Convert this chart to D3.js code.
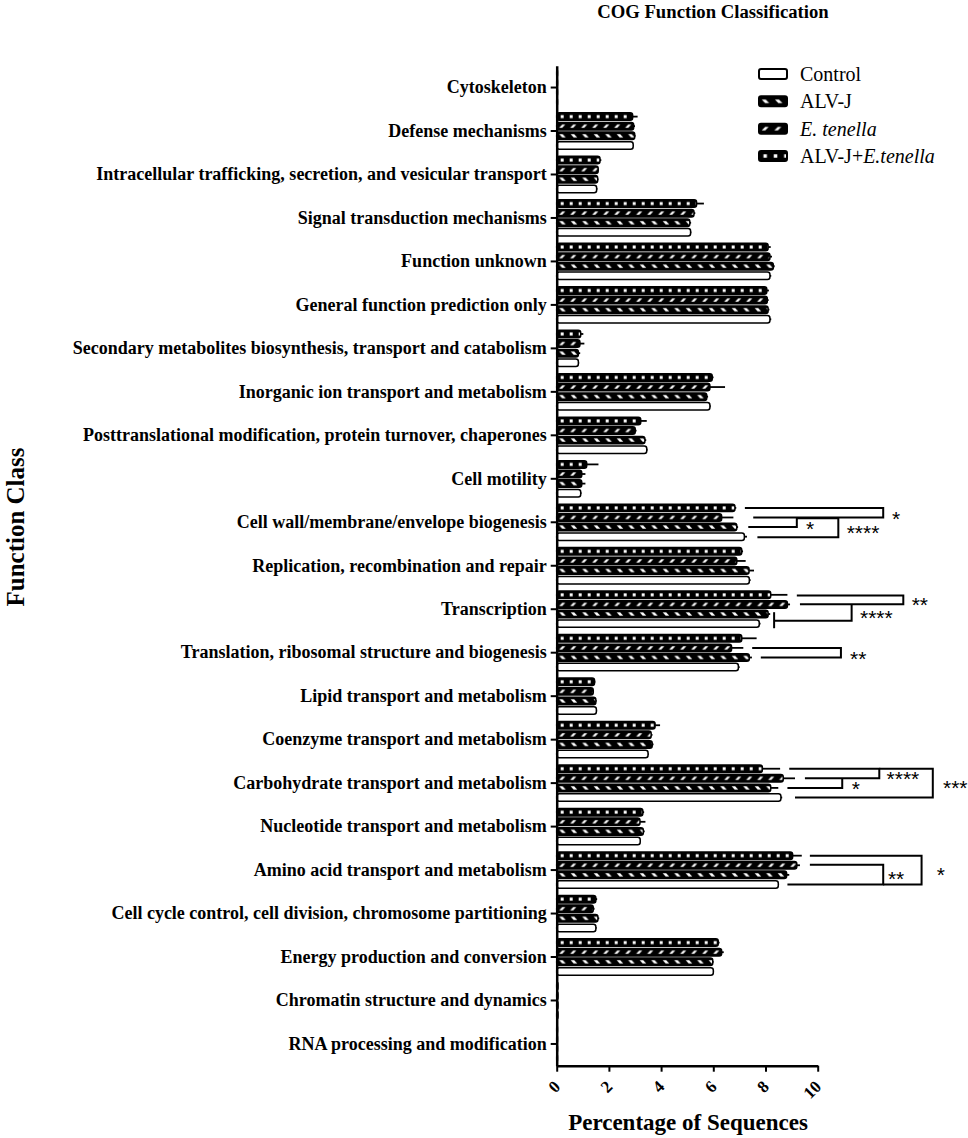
<!DOCTYPE html>
<html>
<head>
<meta charset="utf-8">
<script src="https://cdn.jsdelivr.net/npm/d3@7"></script>
<style>
  html, body { margin: 0; padding: 0; background: #fff; }
  svg { display: block; }
</style>
</head>
<body>
<svg id="chart" width="968" height="1138"></svg>
<script>
// ---------------- DATA ----------------
const categories = [
  "Cytoskeleton",
  "Defense mechanisms",
  "Intracellular trafficking, secretion, and vesicular transport",
  "Signal transduction mechanisms",
  "Function unknown",
  "General function prediction only",
  "Secondary metabolites biosynthesis, transport and catabolism",
  "Inorganic ion transport and metabolism",
  "Posttranslational modification, protein turnover, chaperones",
  "Cell motility",
  "Cell wall/membrane/envelope biogenesis",
  "Replication, recombination and repair",
  "Transcription",
  "Translation, ribosomal structure and biogenesis",
  "Lipid transport and metabolism",
  "Coenzyme transport and metabolism",
  "Carbohydrate transport and metabolism",
  "Nucleotide transport and metabolism",
  "Amino acid transport and metabolism",
  "Cell cycle control, cell division, chromosome partitioning",
  "Energy production and conversion",
  "Chromatin structure and dynamics",
  "RNA processing and modification"
];

// series, drawn top to bottom within each group
const seriesKeys = ["combo", "tenella", "alvj", "control"];

const comboValues   = [0.03, 2.91, 1.66, 5.36, 8.10, 8.05, 0.92, 5.96, 3.22, 1.15, 6.83, 7.09, 8.20, 7.09, 1.45, 3.77, 7.88, 3.30, 9.04, 1.50, 6.19, 0.05, 0.03];
const comboErrors   = [0, 0.19, 0.05, 0.28, 0.10, 0.08, 0.10, 0.05, 0.23, 0.45, 0.05, 0.05, 0.64, 0.57, 0.03, 0.19, 0.68, 0.05, 0.35, 0.05, 0.05, 0, 0];
const tenellaValues = [0.03, 2.95, 1.59, 5.26, 8.17, 8.07, 0.89, 5.87, 3.01, 0.96, 6.32, 6.90, 8.84, 6.70, 1.40, 3.62, 8.68, 3.19, 9.20, 1.40, 6.32, 0.05, 0.03];
const tenellaErrors = [0, 0.05, 0.03, 0.05, 0.08, 0.05, 0.17, 0.58, 0.05, 0.14, 0.45, 0.34, 0.10, 0.45, 0.03, 0.05, 0.45, 0.21, 0.12, 0.05, 0.08, 0, 0];
const alvjValues    = [0.03, 2.99, 1.57, 5.10, 8.30, 8.10, 0.83, 5.75, 3.38, 0.96, 6.90, 7.37, 8.10, 7.38, 1.50, 3.66, 8.20, 3.32, 8.81, 1.58, 5.98, 0.05, 0.03];
const alvjErrors    = [0, 0.03, 0.03, 0.05, 0.05, 0.05, 0.07, 0.05, 0.05, 0.14, 0.05, 0.19, 0.08, 0.10, 0.03, 0.05, 0.29, 0.05, 0.10, 0.05, 0.03, 0, 0];
const controlValues = [0.03, 2.93, 1.53, 5.13, 8.17, 8.17, 0.83, 5.87, 3.45, 0.92, 7.19, 7.38, 7.76, 6.96, 1.52, 3.50, 8.59, 3.20, 8.49, 1.50, 6.00, 0.05, 0.03];
const controlErrors = [0, 0.03, 0.03, 0.03, 0.05, 0.05, 0.03, 0.03, 0.03, 0.03, 0.10, 0.05, 0.05, 0.05, 0.03, 0.03, 0.05, 0.03, 0.03, 0.03, 0.03, 0, 0];

const legendKeys   = ["control", "alvj", "tenella", "combo"];
const legendLabels = [["Control"], ["ALV-J"], ["E. tenella", true], ["ALV-J+", "E.tenella"]];

const xTicks = [0, 2, 4, 6, 8, 10];

// significance brackets: path points as [percentage, series position (0 = top bar .. 3 = bottom bar)]
const brackets = [
  { cat: "Cell wall/membrane/envelope biogenesis", paths: [[[7.21,0],[12.51,0],[12.51,1],[7.53,1]]], labels: [[12.85,0.65,"*"]] },
  { cat: "Cell wall/membrane/envelope biogenesis", paths: [[[7.34,2],[9.20,2],[9.20,1.08],[10.79,1.08],[10.79,3.05],[7.69,3.05]]], labels: [[9.55,1.7,"*"],[11.11,2.12,"****"]] },
  { cat: "Transcription", paths: [[[9.20,0.08],[13.28,0.08],[13.28,0.98],[9.32,0.98]]], labels: [[13.6,0.6,"**"]] },
  { cat: "Transcription", paths: [[[11.30,0.98],[11.30,2.69],[8.33,2.69]],[[8.33,1.81],[8.33,3.48]]], labels: [[11.62,1.99,"****"]] },
  { cat: "Translation, ribosomal structure and biogenesis", paths: [[[7.49,1],[10.89,1],[10.89,2],[7.82,2]]], labels: [[11.24,1.64,"**"]] },
  { cat: "Carbohydrate transport and metabolism", paths: [[[8.91,0],[12.36,0],[12.36,1],[9.51,1]]], labels: [[12.64,0.65,"****"]] },
  { cat: "Carbohydrate transport and metabolism", paths: [[[10.94,1],[10.94,2],[8.84,2]]], labels: [[11.30,1.69,"*"]] },
  { cat: "Carbohydrate transport and metabolism", paths: [[[12.36,0],[14.41,0],[14.41,3],[9.13,3]]], labels: [[14.80,1.51,"***"]] },
  { cat: "Amino acid transport and metabolism", paths: [[[9.70,0.95],[12.51,0.95],[12.51,3],[8.84,3]]], labels: [[12.69,1.94,"**"]] },
  { cat: "Amino acid transport and metabolism", paths: [[[9.70,0],[13.98,0],[13.98,3],[12.51,3]]], labels: [[14.56,1.59,"*"]] }
];

// ---------------- CHART ----------------
const valuesBy = { combo: comboValues, tenella: tenellaValues, alvj: alvjValues, control: controlValues };
const errorsBy = { combo: comboErrors, tenella: tenellaErrors, alvj: alvjErrors, control: controlErrors };

const svg = d3.select("#chart");
const defs = svg.append("defs");
const serif = "'Liberation Serif', 'Times New Roman', serif";

const x = d3.scaleLinear().domain([0, 10]).range([556.7, 817.7]);
const y = d3.scaleBand().domain(categories).range([65.8, 1065.7]).padding(0);
const inner = d3.scaleBand().domain(seriesKeys).range([-19.2, 19.2]).paddingInner(0.22).paddingOuter(0.11);
const bw = inner.bandwidth();
const sPos = d3.scaleLinear().domain([0, 3]).range([inner("combo") + bw / 2, inner("control") + bw / 2]);

// pattern builder
let patId = 0;
function makePattern(key, px, py, h, scale) {
  if (key === "control") return "#fff";
  const id = "pat" + (patId++);
  const mid = h / 2;
  const k = scale || 1;
  const spacing = key === "combo" ? 9 * k : key === "tenella" ? 11 * k : 11.5 * k;
  const p = defs.append("pattern")
    .attr("id", id).attr("patternUnits", "userSpaceOnUse")
    .attr("x", px).attr("y", py).attr("width", spacing).attr("height", h);
  p.append("rect").attr("width", spacing).attr("height", h).attr("fill", "#000");
  const hh = 1.6 * k;
  if (key === "combo") {
    p.append("rect").attr("x", 3 * k).attr("y", mid - 1.5 * k).attr("width", 3 * k).attr("height", 3 * k).attr("fill", "#fff");
  } else if (key === "tenella") {
    p.append("polygon").attr("fill", "#fff")
      .attr("points", [[1.5*k, mid + hh], [4.5*k, mid + hh], [7.5*k, mid - hh], [4.5*k, mid - hh]].map(d => d.join(",")).join(" "));
  } else {
    p.append("polygon").attr("fill", "#fff")
      .attr("points", [[1.5*k, mid - hh], [5*k, mid - hh], [8*k, mid + hh], [4.5*k, mid + hh]].map(d => d.join(",")).join(" "));
  }
  return "url(#" + id + ")";
}

// bars
const barData = [];
categories.forEach((c, i) => {
  seriesKeys.forEach(k => {
    barData.push({ cat: c, key: k, v: valuesBy[k][i], e: errorsBy[k][i] });
  });
});

const gBars = svg.append("g");
barData.forEach(d => {
  const top = y(d.cat) + y.bandwidth() / 2 + inner(d.key);
  d.top = top;
  d.fill = makePattern(d.key, x(0) + 1, top, bw);
});

// error bars (behind bars)
gBars.selectAll("line.err").data(barData.filter(d => d.e > 0)).join("line")
  .attr("class", "err")
  .attr("x1", d => x(d.v)).attr("x2", d => x(d.v + d.e))
  .attr("y1", d => d.top + bw / 2).attr("y2", d => d.top + bw / 2)
  .attr("stroke", "#000").attr("stroke-width", 1.8);

gBars.selectAll("rect.bar").data(barData).join("rect")
  .attr("class", "bar")
  .attr("x", x(0))
  .attr("y", d => d.top)
  .attr("width", d => Math.max(0.6, x(d.v) - x(0)))
  .attr("height", bw)
  .attr("rx", 2.5)
  .attr("fill", d => d.fill)
  .attr("stroke", "#000")
  .attr("stroke-width", 1.5);

// brackets
const line = d3.line();
const gBr = svg.append("g");
brackets.forEach(b => {
  const cy = y(b.cat) + y.bandwidth() / 2;
  b.paths.forEach(pts => {
    gBr.append("path")
      .attr("d", line(pts.map(p => [x(p[0]), cy + sPos(p[1])])))
      .attr("fill", "none").attr("stroke", "#000").attr("stroke-width", 2);
  });
  b.labels.forEach(l => {
    gBr.append("text")
      .attr("x", x(l[0]))
      .attr("y", cy + sPos(l[1]) + 11.5)
      .attr("font-family", "'Liberation Sans', Arial, sans-serif")
      .attr("font-size", 21)
      .attr("fill", "#000")
      .text(l[2]);
  });
});

// axes
const yAxis = svg.append("g")
  .attr("transform", `translate(${x(0)},0)`)
  .call(d3.axisLeft(y).tickSize(6).tickSizeOuter(0).tickPadding(4));
yAxis.select(".domain").attr("stroke-width", 2.5);
yAxis.selectAll(".tick line").attr("stroke-width", 2);
yAxis.selectAll(".tick text")
  .attr("font-family", serif).attr("font-weight", "bold").attr("font-size", 18).attr("fill", "#000");

const xAxis = svg.append("g")
  .attr("transform", `translate(0,${y.range()[1]})`)
  .call(d3.axisBottom(x).tickValues(xTicks).tickSize(6).tickSizeOuter(0).tickFormat(d3.format("d")));
xAxis.select(".domain").attr("stroke-width", 2.5);
xAxis.selectAll(".tick line").attr("stroke-width", 2);
xAxis.selectAll(".tick text")
  .attr("font-family", serif).attr("font-weight", "bold").attr("font-size", 17).attr("fill", "#000")
  .attr("text-anchor", "end")
  .attr("x", 0).attr("y", 0).attr("dy", 0)
  .attr("transform", "translate(4,22) rotate(-45)");

// titles
svg.append("text")
  .attr("x", 713).attr("y", 18)
  .attr("text-anchor", "middle")
  .attr("font-family", serif).attr("font-weight", "bold").attr("font-size", 18.7)
  .text("COG Function Classification");

svg.append("text")
  .attr("x", 688).attr("y", 1130)
  .attr("text-anchor", "middle")
  .attr("font-family", serif).attr("font-weight", "bold").attr("font-size", 23)
  .text("Percentage of Sequences");

svg.append("text")
  .attr("transform", "translate(24,527) rotate(-90)")
  .attr("text-anchor", "middle")
  .attr("font-family", serif).attr("font-weight", "bold").attr("font-size", 25)
  .text("Function Class");

// legend
const legendY = d3.scalePoint().domain(legendKeys).range([74, 156]);
const gLeg = svg.append("g");
legendKeys.forEach((k, i) => {
  const cy = legendY(k);
  const sh = 10;
  gLeg.append("rect")
    .attr("x", 759).attr("y", cy - sh / 2)
    .attr("width", 28).attr("height", sh).attr("rx", 2)
    .attr("fill", makePattern(k, 760, cy - sh / 2, sh, 1.15))
    .attr("stroke", "#000").attr("stroke-width", 2);
  const t = gLeg.append("text")
    .attr("x", 800).attr("y", cy + 7)
    .attr("font-family", serif).attr("font-size", 20).attr("fill", "#000");
  const parts = legendLabels[i];
  if (parts.length === 2 && parts[1] === true) {
    t.append("tspan").attr("font-style", "italic").text(parts[0]);
  } else if (parts.length === 2) {
    t.append("tspan").text(parts[0]);
    t.append("tspan").attr("font-style", "italic").text(parts[1]);
  } else {
    t.append("tspan").text(parts[0]);
  }
});
</script>
</body>
</html>
